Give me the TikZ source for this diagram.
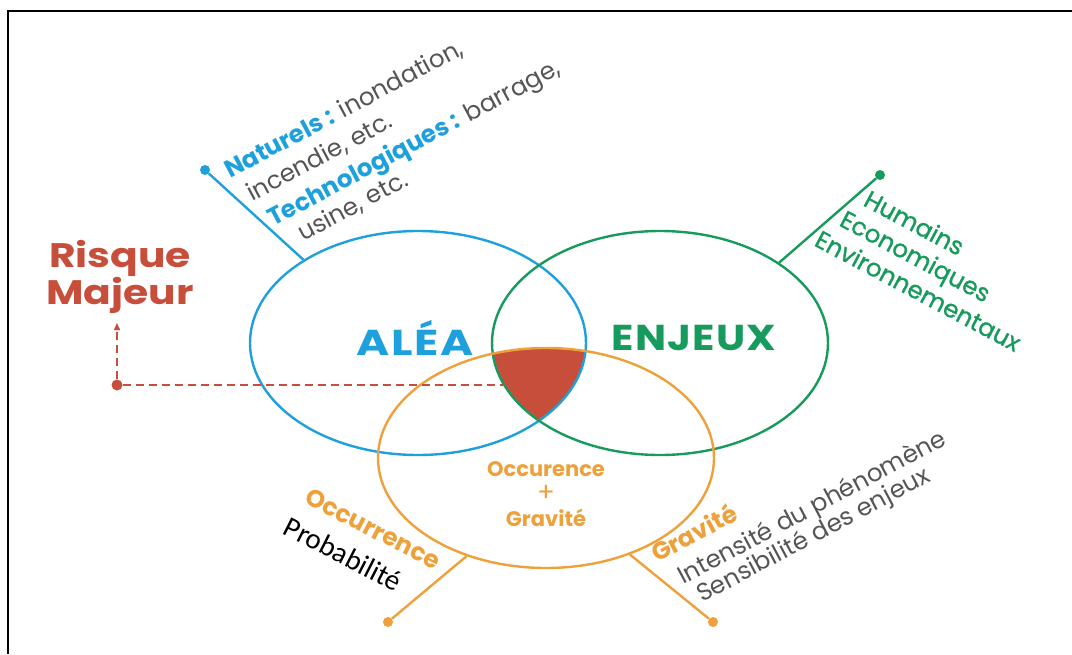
\documentclass[tikz,border=0pt]{standalone}
\usepackage{fontspec}
\setmainfont{Poppins}
\newfontfamily\calib{Carlito}
\usepackage{xcolor}
\usetikzlibrary{shapes.geometric, arrows.meta}
\definecolor{aleablue}{RGB}{30,160,220}
\definecolor{enjgreen}{RGB}{22,155,92}
\definecolor{occorange}{RGB}{238,160,58}
\definecolor{risqred}{RGB}{200,78,60}
\definecolor{txtgray}{RGB}{85,85,85}
\tikzset{
  venn/.style={ellipse, draw, line width=2.4pt, minimum width=336pt, minimum height=224pt, inner sep=0pt},
  endpt/.style={circle, fill, inner sep=0pt, minimum size=10pt},
  lead/.style={line width=2.4pt},
  tiltlbl/.style={inner sep=0pt, text=txtgray, font=\fontsize{24.5}{25}\selectfont},
  bigtxt/.style={font=\bfseries\fontsize{36}{36}\selectfont},
  redline/.style={risqred, line width=1.5pt, dash pattern=on 8pt off 5pt},
}

\begin{document}
\begin{tikzpicture}[x=1pt, y=-1pt]
        \useasboundingbox (0,0) rectangle (1072,654);
        \draw[line width=2.5pt] (1072,11) -- (8,11) -- (8,654);

        % zone commune aux trois ellipses
        \begin{scope}
            \clip (418,343) ellipse [x radius=168pt, y radius=112pt];
            \clip (660,343) ellipse [x radius=168pt, y radius=112pt];
            \fill[risqred] (546,458) ellipse [x radius=168pt, y radius=110pt];
        \end{scope}

        \node[venn, aleablue] at (418,343) (alea) {};
        \node[venn, enjgreen] at (660,343) (enjeux) {};
        \node[venn, occorange, minimum height=220pt] at (546,458) (occ) {};

        \node[bigtxt, text=aleablue] at (415,338) (aleatxt) {\addfontfeature{FakeStretch=1.25, LetterSpace=5}ALÉA};
        \node[bigtxt, text=enjgreen] at (694,338) (enjtxt) {\addfontfeature{FakeStretch=1.15, LetterSpace=3}ENJEUX};
        \node[text=occorange, align=center, font=\bfseries\fontsize{21}{25}\selectfont] at (546,494) (occtxt) {Occurence\\{\mdseries\fontsize{26}{25}\selectfont +}\\Gravité};

        % risque majeur
        \node[text=risqred, align=center, font=\bfseries\fontsize{34}{34}\selectfont] at (120,277) (risque) {\addfontfeature{FakeStretch=1.2}Risque\\\addfontfeature{FakeStretch=1.2}Majeur};
        \node[endpt, risqred, minimum size=11pt] at (117,385) (rdot) {};
        \coordinate (rtip) at (117,323);
        \coordinate (rzone) at (503,385);
        \draw[redline] (rdot) -- (rzone);
        \draw[redline, -{Triangle[length=7pt, width=6pt]}] (rdot) -- (rtip);

        % alea
        \node[endpt, aleablue] at (205,170) (bdot) {};
        \draw[lead, aleablue] (bdot) -- (alea.144);
        \node[tiltlbl, rotate=28, anchor=base west] at (230,179) (nat) {\textcolor{aleablue}{\bfseries Naturels :} inondation,};
        \node[tiltlbl, rotate=28, anchor=base west] at (252,202) (inc) {incendie, etc.};
        \node[tiltlbl, rotate=28, anchor=base west] at (273,227) (tech) {\textcolor{aleablue}{\bfseries Technologiques :} barrage,};
        \node[tiltlbl, rotate=28, anchor=base west] at (303,242) (usi) {usine, etc.};

        % enjeux
        \node[endpt, enjgreen] at (880,175) (gdot) {};
        \draw[lead, enjgreen] (gdot) -- (enjeux.34);
        \node[tiltlbl, text=enjgreen, rotate=-28, anchor=base west] at (862,205) (hum) {\addfontfeature{FakeBold=1}Humains};
        \node[tiltlbl, text=enjgreen, rotate=-28, anchor=base west] at (838,225) (eco) {\addfontfeature{FakeBold=1}Economiques};
        \node[tiltlbl, text=enjgreen, rotate=-28, anchor=base west] at (813,245) (env) {\addfontfeature{FakeBold=1}Environnementaux};

        % occurrence / gravite
        \node[endpt, occorange] at (388,622) (odotl) {};
        \draw[lead, occorange] (odotl) -- (occ.231);
        \node[tiltlbl, text=occorange, rotate=-27, anchor=base east, font=\bfseries\fontsize{24.5}{25}\selectfont] at (435,570) (occl) {Occurrence};
        \node[tiltlbl, text=black, rotate=-27, anchor=base east, font=\calib\fontsize{29}{29}\selectfont] at (396,592) (prob) {Probabilité};

        \node[endpt, occorange] at (713,622) (odotr) {};
        \draw[lead, occorange] (odotr) -- (occ.311);
        \node[tiltlbl, text=occorange, rotate=28, anchor=base west, font=\bfseries\fontsize{24.5}{25}\selectfont] at (657,563) (grav) {Gravité};
        \node[tiltlbl, rotate=28, anchor=base west] at (683,585) (inten) {Intensité du phénomène};
        \node[tiltlbl, rotate=28, anchor=base west] at (702,603) (sens) {Sensibilité des enjeux};
\end{tikzpicture}
\end{document}
